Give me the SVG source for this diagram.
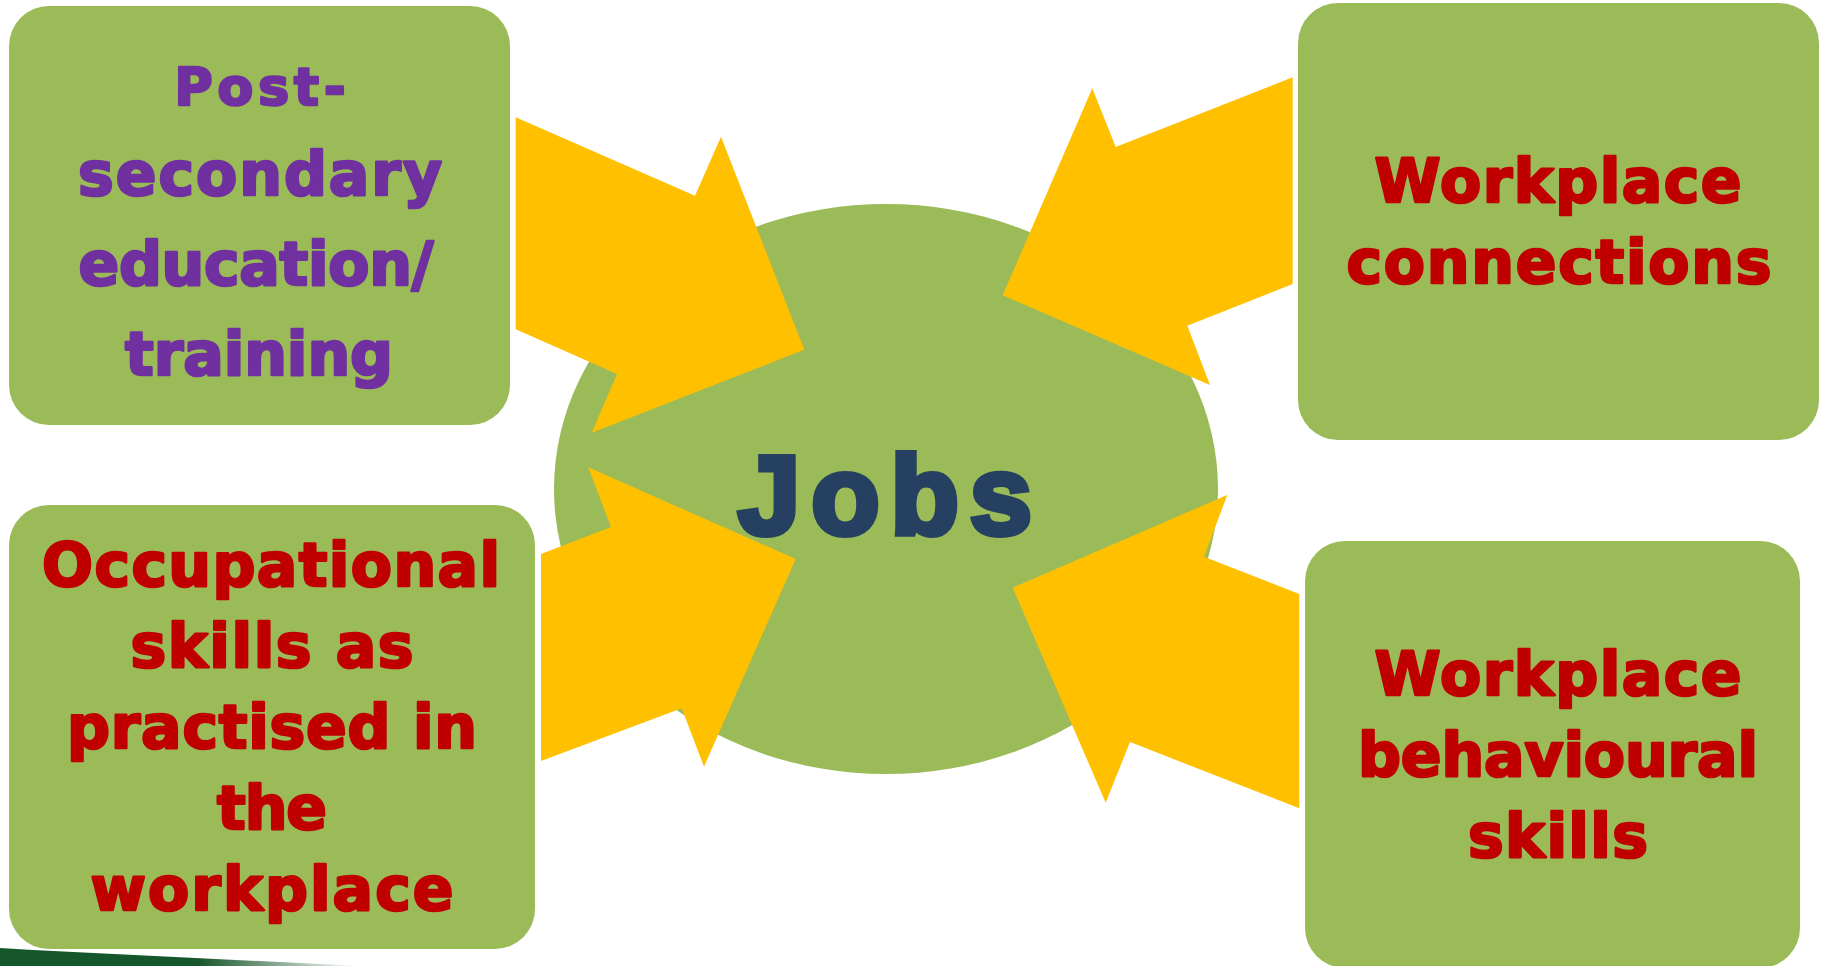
<svg xmlns="http://www.w3.org/2000/svg" width="1825" height="966" viewBox="0 0 1825 966">
  <defs>
    <linearGradient id="strip" x1="0" y1="0" x2="1" y2="0">
      <stop offset="0" stop-color="#16562b"/>
      <stop offset="0.55" stop-color="#16562b"/>
      <stop offset="1" stop-color="#16562b" stop-opacity="0"/>
    </linearGradient>
    <style>
      .box { fill: #9bbb59; }
      .arrow { fill: #ffc000; }
      .t { font-family: "DejaVu Sans", "Liberation Sans", sans-serif; font-weight: bold; text-anchor: middle; stroke-linejoin: round; }
      .purple { fill: #7030a0; stroke: #7030a0; stroke-width: 2.6; font-size: 60px; }
      .red { fill: #c00000; stroke: #c00000; stroke-width: 2.6; font-size: 60px; }
      .jobs { font-family: "Liberation Sans", Arial, sans-serif; fill: #264061; stroke: #264061; stroke-width: 6; stroke-linejoin: miter; font-size: 112px; }
    </style>
  </defs>
  <rect width="1825" height="966" fill="#ffffff"/>
  <polygon points="0,948 33,950 360,966 0,966" fill="url(#strip)"/>

  <g id="jobs-node">
    <ellipse cx="886" cy="489" rx="332" ry="285" fill="#9bbb59"/>
  </g>

  <g id="node-post-secondary">
    <rect class="box" x="9" y="6" width="501" height="419" rx="40"/>
    <text class="t purple" x="260" y="105" style="font-size:52px" textLength="171">Post-</text>
    <text class="t purple" x="260" y="195" textLength="364">secondary</text>
    <text class="t purple" x="256" y="285" textLength="355">education/</text>
    <text class="t purple" x="259" y="375" textLength="268">training</text>
  </g>

  <g id="node-workplace-connections">
    <rect class="box" x="1298" y="3" width="521" height="437" rx="40"/>
    <text class="t red" x="1558" y="202" textLength="367">Workplace</text>
    <text class="t red" x="1559" y="283" textLength="425">connections</text>
  </g>

  <g id="node-occupational">
    <rect class="box" x="9" y="505" width="526" height="444" rx="40"/>
    <text class="t red" x="271" y="586" textLength="458">Occupational</text>
    <text class="t red" x="272" y="667" textLength="283">skills as</text>
    <text class="t red" x="272" y="748" textLength="410">practised in</text>
    <text class="t red" x="272" y="829" textLength="110">the</text>
    <text class="t red" x="272" y="910" textLength="363">workplace</text>
  </g>

  <g id="node-behavioural">
    <rect class="box" x="1305" y="541" width="495" height="427" rx="40"/>
    <text class="t red" x="1558" y="695" textLength="367">Workplace</text>
    <text class="t red" x="1558" y="776" textLength="400">behavioural</text>
    <text class="t red" x="1558" y="857" textLength="180">skills</text>
  </g>

  <g id="connectors">
    <polygon class="arrow" points="515.7,117.3 695,195.7 721,136.7 804.3,349.7 591.7,432.7 617,374 515.7,329.3"/>
    <polygon class="arrow" points="588.3,467.3 795.7,559 704,766.7 681.7,708.3 541,761 541,554 611,527"/>
    <polygon class="arrow" points="1092.3,88.3 1115.7,147 1292.7,77.3 1292.7,284 1187.3,325.7 1210,385 1002.7,295.3"/>
    <polygon class="arrow" points="1227.3,495 1204,556.7 1299.3,594 1299.3,808.3 1130,742 1105.7,802.7 1012.7,587.7"/>
  </g>

  <g id="jobs-label">
    <text class="t jobs" x="885" y="534" textLength="294">Jobs</text>
  </g>
</svg>
